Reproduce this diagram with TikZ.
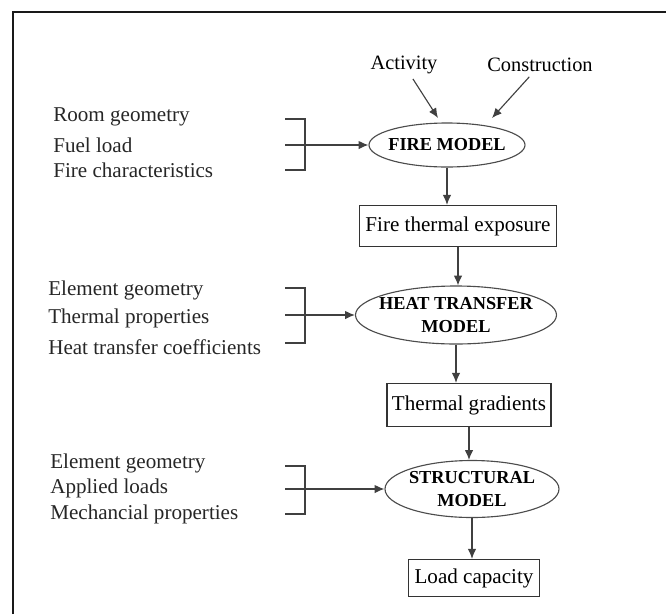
\documentclass[tikz,border=0pt]{standalone}
\usepackage{fontspec}
\setmainfont{Liberation Serif}
\usepackage{tikz}
\usetikzlibrary{shapes.geometric, arrows.meta, positioning}

\begin{document}
\begin{tikzpicture}[
    x=0.025cm, y=-0.025cm,
    model/.style={ellipse, draw=black!70, line width=0.8pt, inner xsep=-5pt, inner ysep=0pt, align=center, font=\fontsize{13}{16}\selectfont\bfseries},
    result/.style={rectangle, draw=black!80, line width=1pt, inner sep=0pt, align=center, font=\fontsize{15}{18}\selectfont},
    input/.style={inner sep=0pt, anchor=west, font=\fontsize{15}{18}\selectfont, text=black!85},
    bracket/.style={draw=black!75, line width=0.8pt},
    arrow/.style={-{Latex[length=7pt,width=6pt]}, draw=black!75, line width=0.8pt}
]
\useasboundingbox (0,0) rectangle (666,614);

% Outer frame (only top and left edges show)
\draw[line width=2pt, black!90] (13,614) -- (13,12) -- (666,12);

% Top: Fire model
\node[font=\fontsize{14.5}{17}\selectfont] (activity) at (404,65) {Activity};
\node[font=\fontsize{14.5}{17}\selectfont] (construction) at (540,65) {Construction};
\node[model, minimum width=156*0.025cm, minimum height=44*0.025cm] (fire_model) at (447,145) {FIRE MODEL};
\node[result, minimum width=197*0.025cm, minimum height=41*0.025cm] (exposure) at (458,226) {Fire thermal exposure};

\node[input] (room) at (53,117) {Room geometry};
\node[input] (fuel) at (53,145) {Fuel load};
\node[input] (fire_char) at (53,170) {Fire characteristics};

% Middle: Heat transfer model
\node[model, minimum width=201*0.025cm, minimum height=58*0.025cm] (ht_model) at (456,315) {HEAT TRANSFER\\MODEL};
\node[result, minimum width=164*0.025cm, minimum height=43*0.025cm] (gradients) at (469,405) {Thermal gradients};

\node[input] (elem_geom_a) at (48,290) {Element geometry};
\node[input] (thermal_prop) at (48,318) {Thermal properties};
\node[input] (ht_coeff) at (48,347) {Heat transfer coefficients};

% Bottom: Structural model
\node[model, minimum width=174*0.025cm, minimum height=57*0.025cm] (struct_model) at (472,489) {STRUCTURAL\\MODEL};
\node[result, minimum width=131*0.025cm, minimum height=37*0.025cm] (load_cap) at (474,578) {Load capacity};

\node[input] (elem_geom_b) at (50,463) {Element geometry};
\node[input] (applied) at (50,488) {Applied loads};
\node[input] (mech_prop) at (50,514) {Mechancial properties};

% Brackets
\coordinate (fire_in) at (285,145);
\coordinate (ht_in) at (285,315);
\coordinate (struct_in) at (285,489);
\draw[bracket] (285,119) -- (305,119) -- (305,170) -- (285,170);
\draw[bracket] (285,288) -- (305,288) -- (305,343) -- (285,343);
\draw[bracket] (285,466) -- (305,466) -- (305,514) -- (285,514);

% Connectors
\coordinate (act_tip) at (438,118);
\coordinate (con_tip) at (492,118);
\draw[arrow] (activity) -- (act_tip);
\draw[arrow] (construction) -- (con_tip);

\draw[arrow] (fire_in) -- (fire_model.west);
\draw[arrow] (ht_in) -- (ht_model.west);
\draw[arrow] (struct_in) -- (struct_model.west);

\draw[arrow] (fire_model.south) -- (fire_model.south |- exposure.north);
\draw[arrow] (exposure.south) -- (exposure.south |- ht_model.north);
\draw[arrow] (ht_model.south) -- (ht_model.south |- gradients.north);
\draw[arrow] (gradients.south) -- (gradients.south |- struct_model.north);
\draw[arrow] (struct_model.south) -- (struct_model.south |- load_cap.north);

\end{tikzpicture}
\end{document}
